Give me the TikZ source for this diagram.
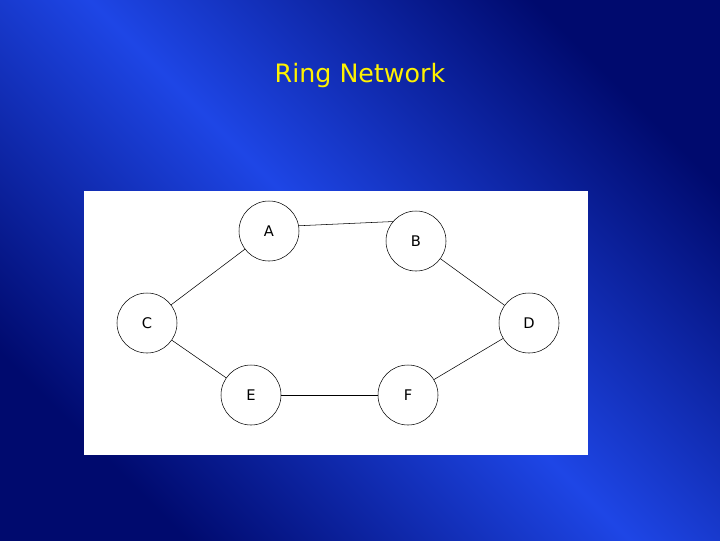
\documentclass[tikz,border=0pt]{standalone}
\usepackage{fontspec}
\setmainfont{DejaVu Sans}
\begin{document}
\begin{tikzpicture}[x=0.75pt,y=-0.75pt,
  nd/.style={circle,draw=black,thin,fill=white,minimum size=45pt,inner sep=0pt,font=\fontsize{11}{13}\selectfont},
  ln/.style={draw=black,thin}]
\definecolor{dk}{RGB}{0,10,110}
\definecolor{br}{RGB}{30,70,230}
\useasboundingbox (0,0) rectangle (720,540);
\shade[left color=dk,right color=dk,middle color=br,shading angle=135] (0,0) rectangle (720,540);
\node[text=yellow,font=\fontsize{19}{22}\selectfont] (t) at (360,76) {Ring Network};
\fill[white] (84,191) rectangle (588,455);
\node[nd] (A) at (269,231) {A};
\node[nd] (B) at (416,241) {B};
\node[nd] (C) at (147,323) {C};
\node[nd] (D) at (529,323) {D};
\node[nd] (E) at (251,395) {E};
\node[nd] (F) at (408,395) {F};
\draw[ln] (A.10) -- (B.140);
\draw[ln] (A) -- (C);
\draw[ln] (C) -- (E);
\draw[ln] (E) -- (F);
\draw[ln] (F) -- (D);
\draw[ln] (D) -- (B);
\end{tikzpicture}
\end{document}
